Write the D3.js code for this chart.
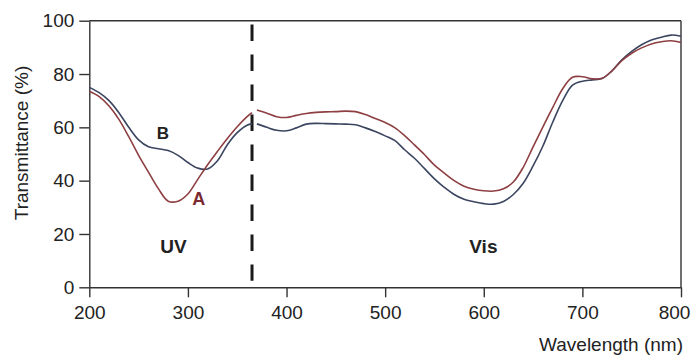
<!DOCTYPE html>
<html>
<head>
<meta charset="utf-8">
<script src="https://cdn.jsdelivr.net/npm/d3@7"></script>
<style>
  body { margin: 0; background: #fff; }
  svg { font-family: "Liberation Sans", Arial, sans-serif; }
</style>
</head>
<body>
<div id="chart"></div>
<script>
// wavelengths (nm), two segments split at the UV / Vis boundary
var wlUV = [200,210,220,230,240,250,260,270,280,290,300,310,320,330,340,350,360,365];
var aUV  = [73.5,71.5,68,63,56.5,49.5,43.2,37,32.3,32.3,35,40.5,46,51,55.8,60.2,64,65.5];
var bUV  = [75,73,70,65.5,60,55.3,52.7,52,51.3,49.5,46.8,44.7,44.4,47.5,53.5,58,60.8,61.3];

var wlVis = [370,380,390,400,410,420,430,440,450,460,470,480,490,500,510,520,530,540,550,560,570,580,590,600,
             610,620,630,640,650,660,670,680,690,700,710,720,730,740,750,760,770,780,790,800];
var aVis = [66.5,65.3,64,63.7,64.5,65.2,65.6,65.8,65.9,66.1,65.9,64.8,63.3,61.8,59.8,56.8,53.3,49.7,45.8,42.8,40,37.9,36.8,36.2,
            36.1,37,39.5,45,52.7,60.2,67.5,74.5,78.8,79,78.2,78.4,81.2,85,87.8,89.8,91.3,92.1,92.5,91.8];
var bVis = [61.3,60,58.9,58.7,59.8,61.2,61.5,61.4,61.3,61.2,61,59.8,58.4,56.8,55,51.5,48.3,44.5,40.7,37.5,34.8,33,32.1,31.4,
            31.2,32.2,34.8,39,45.5,53,62,70,75.8,77.3,77.8,78.3,81.2,85.3,88.5,91,92.8,93.8,94.6,94.2];

var xTicks = [200,300,400,500,600,700,800];
var yTicks = [0,20,40,60,80,100];

var labels = [
  {text: "B",   wl: 274.5, t: 55.5,  size: 17, color: "#222"},
  {text: "A",   wl: 311,   t: 30.9,  size: 18, color: "#7a2a30"},
  {text: "UV",  wl: 285.4, t: 12.75, size: 19, color: "#222"},
  {text: "Vis", wl: 599.6, t: 12.75, size: 19, color: "#222"}
];
var boundary = 365;

var W = 693, H = 356;
var margin = {top: 20.7, right: 12, bottom: 68.7, left: 89.3};
var width = W - margin.left - margin.right,
    height = H - margin.top - margin.bottom;

var svg = d3.select("#chart").append("svg")
    .attr("width", W)
    .attr("height", H)
  .append("g")
    .attr("transform", "translate(" + margin.left + "," + margin.top + ")");

var x = d3.scaleLinear().domain([200, 800]).range([0, width]),
    y = d3.scaleLinear().domain([0, 100]).range([height, 0]);

var axisColor = "#333";

// axes
var gx = svg.append("g")
    .attr("transform", "translate(0," + height + ")")
    .call(d3.axisBottom(x).tickValues(xTicks).tickSize(10).tickSizeOuter(0).tickPadding(8));
var gy = svg.append("g")
    .call(d3.axisLeft(y).tickValues(yTicks).tickSize(10).tickSizeOuter(0).tickPadding(5));

[gx, gy].forEach(function(g) {
  g.select(".domain").attr("stroke", axisColor).attr("stroke-width", 1.4);
  g.selectAll(".tick line").attr("stroke", axisColor).attr("stroke-width", 1.4);
  g.selectAll(".tick text").attr("fill", "#222").style("font-size", "19px")
    .style("font-family", "'Liberation Sans', Arial, sans-serif");
});
// last label sits a little inside the page edge
gx.selectAll(".tick text").filter(function(d) { return d === 800; }).attr("dx", -7);

// top and right frame
svg.append("line").attr("x1", 0).attr("x2", width).attr("y1", 0).attr("y2", 0)
    .attr("stroke", axisColor).attr("stroke-width", 1.4);
svg.append("line").attr("x1", width).attr("x2", width).attr("y1", 0).attr("y2", height)
    .attr("stroke", axisColor).attr("stroke-width", 1.4);

// UV / Vis boundary
svg.append("line")
    .attr("x1", x(boundary)).attr("x2", x(boundary))
    .attr("y1", y(98.6)).attr("y2", y(2.5))
    .attr("stroke", "#1a1a1a")
    .attr("stroke-width", 3)
    .attr("stroke-dasharray", "16.5,13.5");

// spectra
var line = d3.line()
    .x(function(d) { return x(d[0]); })
    .y(function(d) { return y(d[1]); })
    .curve(d3.curveCatmullRom);

var series = [
  {wl: wlUV,  vals: bUV,  color: "#3b4560"},
  {wl: wlVis, vals: bVis, color: "#3b4560"},
  {wl: wlUV,  vals: aUV,  color: "#8d3f42"},
  {wl: wlVis, vals: aVis, color: "#8d3f42"}
];
series.forEach(function(s) {
  svg.append("path")
      .datum(d3.zip(s.wl, s.vals))
      .attr("fill", "none")
      .attr("stroke", s.color)
      .attr("stroke-width", 1.6)
      .attr("d", line);
});

// annotations
svg.selectAll(".lbl")
    .data(labels)
  .enter().append("text")
    .attr("class", "lbl")
    .attr("x", function(d) { return x(d.wl); })
    .attr("y", function(d) { return y(d.t); })
    .attr("text-anchor", "middle")
    .style("font-weight", "bold")
    .style("font-size", function(d) { return d.size + "px"; })
    .attr("fill", function(d) { return d.color; })
    .text(function(d) { return d.text; });

// axis titles
svg.append("text")
    .attr("transform", "translate(" + (28 - margin.left) + "," + (143 - margin.top) + ") rotate(-90)")
    .attr("text-anchor", "middle")
    .style("font-size", "19px")
    .attr("fill", "#222")
    .text("Transmittance (%)");

svg.append("text")
    .attr("x", width + 2)
    .attr("y", 351 - margin.top)
    .attr("text-anchor", "end")
    .style("font-size", "19px")
    .attr("fill", "#222")
    .text("Wavelength (nm)");
</script>
</body>
</html>
